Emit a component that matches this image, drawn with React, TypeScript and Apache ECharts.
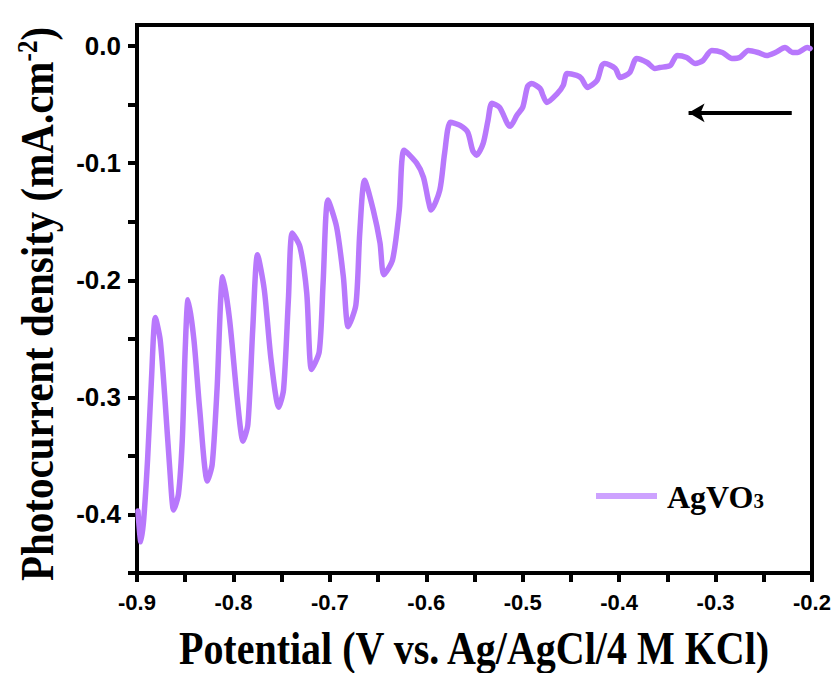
import React, { useEffect, useRef } from 'react';
import * as echarts from 'echarts';

// Potential (V vs. Ag/AgCl/4 M KCl)
const potential = [
  -0.899, -0.896, -0.893, -0.889, -0.885, -0.881, -0.876, -0.871, -0.866, -0.862,
  -0.857, -0.853, -0.850, -0.847, -0.841, -0.835, -0.827, -0.822, -0.817, -0.811,
  -0.804, -0.796, -0.790, -0.785, -0.780, -0.775, -0.768, -0.761, -0.753, -0.748,
  -0.743, -0.739, -0.731, -0.724, -0.719, -0.711, -0.707, -0.702, -0.693, -0.686,
  -0.681, -0.673, -0.669, -0.664, -0.655, -0.648, -0.644, -0.635, -0.628, -0.623,
  -0.610, -0.603, -0.598, -0.595, -0.586, -0.581, -0.575, -0.565, -0.557, -0.552,
  -0.548, -0.541, -0.536, -0.532, -0.524, -0.516, -0.513, -0.506, -0.500, -0.495,
  -0.491, -0.482, -0.479, -0.475, -0.464, -0.458, -0.454, -0.444, -0.439, -0.433,
  -0.423, -0.418, -0.415, -0.404, -0.399, -0.389, -0.382, -0.371, -0.363, -0.358,
  -0.347, -0.340, -0.330, -0.321, -0.313, -0.304, -0.293, -0.283, -0.275, -0.266,
  -0.256, -0.247, -0.238, -0.228, -0.220, -0.215, -0.205, -0.202,
];

// Photocurrent density (mA.cm-2)
const current = [
  -0.397, -0.4234, -0.4038, -0.3528, -0.2847, -0.2319, -0.2506, -0.3017, -0.3613, -0.3962,
  -0.3826, -0.3357, -0.2591, -0.2166, -0.2506, -0.3102, -0.3715, -0.357, -0.2932, -0.197,
  -0.2336, -0.3017, -0.3374, -0.323, -0.2421, -0.1783, -0.2081, -0.2677, -0.3085, -0.2932,
  -0.2166, -0.1596, -0.1715, -0.2106, -0.2762, -0.2609, -0.2021, -0.1315, -0.1545, -0.197,
  -0.2396, -0.2209, -0.1596, -0.1145, -0.14, -0.1681, -0.1953, -0.1826, -0.14, -0.0889,
  -0.1, -0.1119, -0.1315, -0.14, -0.123, -0.0915, -0.0651, -0.0677, -0.0736, -0.0889,
  -0.0932, -0.083, -0.0634, -0.0489, -0.0523, -0.066, -0.0685, -0.0591, -0.0523, -0.0345,
  -0.0319, -0.0362, -0.0421, -0.0481, -0.0404, -0.0336, -0.0234, -0.0251, -0.0277, -0.0353,
  -0.0294, -0.0166, -0.0149, -0.0191, -0.0268, -0.0226, -0.0106, -0.014, -0.0191, -0.0183,
  -0.0166, -0.0081, -0.0098, -0.0149, -0.0123, -0.0038, -0.0055, -0.0106, -0.0098, -0.0038,
  -0.0055, -0.0081, -0.0055, -0.0013, -0.0055, -0.0055, -0.0013, -0.0021,
];

const xTickValues = [-0.9, -0.85, -0.8, -0.75, -0.7, -0.65, -0.6, -0.55, -0.5, -0.45, -0.4, -0.35, -0.3, -0.25, -0.2];
const xLabelValues = [-0.9, -0.8, -0.7, -0.6, -0.5, -0.4, -0.3, -0.2];
const yTickValues = [-0.45, -0.4, -0.35, -0.3, -0.25, -0.2, -0.15, -0.1, -0.05, 0];
const yLabelValues = [-0.4, -0.3, -0.2, -0.1, 0];

const seriesName = 'AgVO3';
const xAxisTitle = 'Potential (V vs. Ag/AgCl/4 M KCl)';
const yAxisTitle = 'Photocurrent density (mA.cm{sup|-2})';

// scan-direction arrow (data coordinates)
const arrowStartX = -0.221;
const arrowEndX = -0.328;
const arrowY = -0.057;

const LINE_COLOR = '#B878FC';
const LEGEND_COLOR = '#CDA2FF';
const SERIF = "'Liberation Serif', 'Times New Roman', serif";
const SANS = "'Liberation Sans', Arial, sans-serif";

export default function App() {
  const ref = useRef<HTMLDivElement>(null);

  useEffect(() => {
    if (!ref.current) return;
    const chart = echarts.init(ref.current, null, { renderer: 'svg' });
    const data = potential.map((p, i) => [p, current[i]]);
    const fmt = (v: number) => (Math.abs(v) < 1e-9 ? '0.0' : v.toFixed(1));

    chart.setOption({
      animation: false,
      backgroundColor: '#fff',
      grid: {
        left: 137,
        right: 25,
        top: 25,
        bottom: 100,
        show: true,
        borderColor: '#000',
        borderWidth: 4,
        backgroundColor: 'transparent',
      },
      graphic: [
        {
          type: 'text',
          x: 474,
          y: 649,
          scaleY: 1.14,
          silent: true,
          style: {
            text: xAxisTitle,
            fontFamily: SERIF,
            fontWeight: 'bold',
            fontSize: 40,
            fill: '#000',
            align: 'center',
            verticalAlign: 'middle',
            textAlign: 'center',
            textVerticalAlign: 'middle',
          },
        },
        {
          type: 'text',
          x: 38,
          y: 304,
          rotation: Math.PI / 2,
          scaleY: 1.15,
          silent: true,
          style: {
            text: yAxisTitle,
            fontFamily: SERIF,
            fontWeight: 'bold',
            fontSize: 41,
            fill: '#000',
            align: 'center',
            verticalAlign: 'middle',
            textAlign: 'center',
            textVerticalAlign: 'middle',
            rich: {
              sup: { fontFamily: SERIF, fontWeight: 'bold', fontSize: 25, fill: '#000', padding: [0, 0, 18, 0] },
            },
          },
        },
      ],
      legend: {
        show: true,
        data: [seriesName],
        left: 596,
        top: 481,
        padding: 0,
        icon: 'rect',
        itemWidth: 61,
        itemHeight: 6,
        itemStyle: { color: LEGEND_COLOR },
        formatter: () => '{a|AgVO}{b|3}',
        textStyle: {
          padding: [0, 0, 0, 5],
          rich: {
            a: { fontFamily: SERIF, fontWeight: 'bold', fontSize: 32, color: '#000', verticalAlign: 'bottom', lineHeight: 34 },
            b: { fontFamily: SERIF, fontWeight: 'bold', fontSize: 21, color: '#000', verticalAlign: 'bottom', lineHeight: 34, padding: [0, 0, 2, 0] },
          },
        },
      },
      xAxis: {
        type: 'value',
        min: -0.9,
        max: -0.2,
        interval: 0.05,
        axisLine: { show: true, onZero: false, lineStyle: { color: '#000', width: 4 } },
        axisTick: { show: true, inside: false, length: 9, customValues: xTickValues, lineStyle: { color: '#000', width: 4 } },
        axisLabel: {
          show: true,
          customValues: xLabelValues,
          formatter: fmt,
          margin: 18,
          fontFamily: SANS,
          fontWeight: 'bold',
          fontSize: 22,
          color: '#000',
        },
        splitLine: { show: false },
      },
      yAxis: {
        type: 'value',
        min: -0.45,
        max: 0.018,
        interval: 0.05,
        axisLine: { show: true, onZero: false, lineStyle: { color: '#000', width: 4 } },
        axisTick: { show: true, inside: false, length: 9, customValues: yTickValues, lineStyle: { color: '#000', width: 4 } },
        axisLabel: {
          show: true,
          customValues: yLabelValues,
          formatter: fmt,
          margin: 16,
          fontFamily: SANS,
          fontWeight: 'bold',
          fontSize: 26,
          color: '#000',
        },
        splitLine: { show: false },
      },
      series: [
        {
          name: seriesName,
          type: 'line',
          data,
          showSymbol: false,
          symbol: 'none',
          smooth: 0.25,
          lineStyle: { color: LINE_COLOR, width: 5.5, join: 'round', cap: 'round' },
          itemStyle: { color: LEGEND_COLOR },
          markLine: {
            silent: true,
            symbol: ['none', 'arrow'],
            symbolSize: [14, 16],
            label: { show: false },
            lineStyle: { color: '#000', width: 4, type: 'solid' },
            data: [[{ coord: [arrowStartX, arrowY] }, { coord: [arrowEndX, arrowY] }]],
          },
        },
      ],
    });

    return () => chart.dispose();
  }, []);

  return <div ref={ref} style={{ position: 'fixed', left: 0, top: 0, width: 837, height: 673 }} />;
}
